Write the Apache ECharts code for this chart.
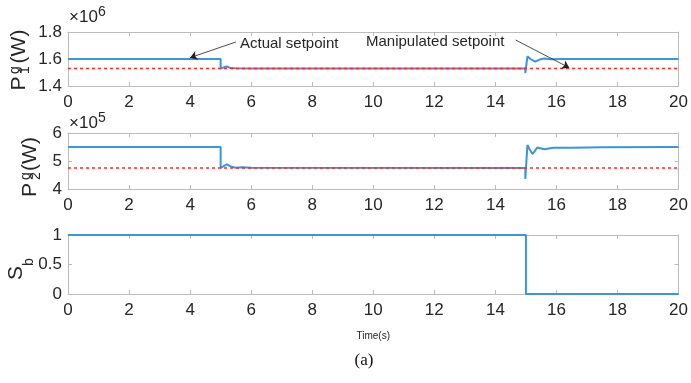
<!DOCTYPE html>
<html>
<head>
<meta charset="utf-8">
<script src="https://cdn.jsdelivr.net/npm/echarts@6/dist/echarts.min.js"></script>
<style>
  html, body { margin: 0; padding: 0; background: #fff; }
  #main { width: 691px; height: 383px; }
</style>
</head>
<body>
<div id="main"></div>
<script>
// time axis ticks (s)
const timeTicks = [0, 2, 4, 6, 8, 10, 12, 14, 16, 18, 20];

// P1g, units of 1e6 W
const timeP1 = [0, 5, 5, 5.1, 5.2, 5.3, 5.45, 6, 14.98, 14.98, 15.05, 15.15, 15.3, 15.45, 15.6, 15.8, 16.2, 20];
const p1Actual = [1.6, 1.6, 1.53, 1.538, 1.545, 1.536, 1.531, 1.53, 1.53, 1.496, 1.62, 1.6, 1.58, 1.596, 1.603, 1.598, 1.6, 1.6];
const timeRef = [0, 20];
const p1Manip = [1.53, 1.53];

// P2g, units of 1e5 W
const timeP2 = [0, 5, 5, 5.1, 5.2, 5.35, 5.5, 5.7, 6, 14.98, 14.98, 15.05, 15.12, 15.22, 15.37, 15.6, 15.9, 16.5, 17.5, 20];
const p2Actual = [5.5, 5.5, 4.75, 4.82, 4.88, 4.8, 4.76, 4.78, 4.76, 4.75, 4.36, 5.57, 5.42, 5.25, 5.48, 5.42, 5.47, 5.47, 5.49, 5.5];
const p2Manip = [4.75, 4.75];

// breaker status
const timeSb = [0, 15, 15, 20];
const sbVals = [1, 1, 0, 0];

const zip = (xs, ys) => xs.map((x, i) => [x, ys[i]]);

const blue = '#3a95dd';
const red = '#ff2a2a';
const axisGray = '#bcbcbc';
const txt = '#262626';
const font = 'Liberation Sans, Arial, sans-serif';

const grids = [
  { left: 68, top: 32, width: 614, height: 54 },
  { left: 68, top: 133, width: 614, height: 56 },
  { left: 68, top: 235, width: 614, height: 59 }
];

const xBottom = i => ({
  type: 'value', gridIndex: i, min: 0, max: 20, interval: 2,
  axisLine: { show: true, onZero: false, lineStyle: { color: axisGray } },
  axisTick: { show: true, inside: true, length: 4, lineStyle: { color: axisGray } },
  axisLabel: { color: txt, fontSize: 17, fontFamily: font, margin: 8 },
  splitLine: { show: false }
});
const xTop = i => ({
  type: 'value', gridIndex: i, position: 'top', min: 0, max: 20, interval: 2,
  axisLine: { show: true, onZero: false, lineStyle: { color: axisGray } },
  axisTick: { show: true, inside: true, length: 4, lineStyle: { color: axisGray } },
  axisLabel: { show: false },
  splitLine: { show: false }
});
const yLeft = (i, min, max, interval) => ({
  type: 'value', gridIndex: i, min, max, interval,
  axisLine: { show: true, onZero: false, lineStyle: { color: axisGray } },
  axisTick: { show: true, inside: true, length: 4, lineStyle: { color: axisGray } },
  axisLabel: { color: txt, fontSize: 17, fontFamily: font, margin: 6 },
  splitLine: { show: false }
});
const yRight = (i, min, max, interval) => ({
  type: 'value', gridIndex: i, position: 'right', min, max, interval,
  axisLine: { show: true, onZero: false, lineStyle: { color: axisGray } },
  axisTick: { show: true, inside: true, length: 4, lineStyle: { color: axisGray } },
  axisLabel: { show: false },
  splitLine: { show: false }
});

const xAxes = [xBottom(0), xBottom(1), xBottom(2), xTop(0), xTop(1), xTop(2)];
xAxes[2].name = 'Time(s)';
xAxes[2].nameLocation = 'middle';
xAxes[2].nameGap = 37;
xAxes[2].nameTextStyle = { color: txt, fontSize: 10, fontFamily: font };

const yAxes = [
  yLeft(0, 1.4, 1.8, 0.2), yLeft(1, 4, 6, 1), yLeft(2, 0, 1, 0.5),
  yRight(0, 1.4, 1.8, 0.2), yRight(1, 4, 6, 1), yRight(2, 0, 1, 0.5)
];

const arrow = (from, to) => [{ coord: from }, { coord: to }];

const series = [
  {
    type: 'line', xAxisIndex: 0, yAxisIndex: 0, data: zip(timeP1, p1Actual),
    showSymbol: false, lineStyle: { color: blue, width: 2 }, z: 2,
    markLine: {
      silent: true, symbol: ['none', 'arrow'], symbolSize: 7,
      lineStyle: { color: '#222', width: 0.8, type: 'solid' },
      label: { show: false },
      data: [arrow([5.5, 1.726], [4.0, 1.61]), arrow([14.66, 1.741], [16.42, 1.535])]
    }
  },
  {
    type: 'line', xAxisIndex: 0, yAxisIndex: 0, data: zip(timeRef, p1Manip),
    showSymbol: false, lineStyle: { color: red, width: 1.5, type: [3, 3] }, z: 3
  },
  {
    type: 'line', xAxisIndex: 1, yAxisIndex: 1, data: zip(timeP2, p2Actual),
    showSymbol: false, lineStyle: { color: blue, width: 2 }, z: 2
  },
  {
    type: 'line', xAxisIndex: 1, yAxisIndex: 1, data: zip(timeRef, p2Manip),
    showSymbol: false, lineStyle: { color: red, width: 1.5, type: [3, 3] }, z: 3
  },
  {
    type: 'line', xAxisIndex: 2, yAxisIndex: 2, data: zip(timeSb, sbVals),
    showSymbol: false, clip: false, lineStyle: { color: blue, width: 2 }, z: 3
  }
];

const rot = Math.PI / 2;
const vtext = (x, y, text, size) => ({
  type: 'text', x, y, rotation: rot,
  style: { text, fill: txt, font: size + 'px ' + font, align: 'center', verticalAlign: 'middle' }
});
const htext = (x, y, text, size, fam) => ({
  type: 'text', x, y,
  style: { text, fill: txt, font: size + 'px ' + (fam || font), align: 'left', verticalAlign: 'middle' }
});

const graphic = [
  // P1g(W)
  vtext(19.5, 83.5, 'P', 21), vtext(15, 70, 'g', 14), vtext(25, 70, '1', 14), vtext(19.5, 46.5, '(W)', 21),
  // P2g(W)
  vtext(30, 190, 'P', 21), vtext(26, 176, 'g', 14), vtext(36, 176, '2', 14), vtext(30, 154, '(W)', 21),
  // Sb
  vtext(16, 273, 'S', 21), vtext(29, 262, 'b', 14),
  // exponents
  htext(69, 17.5, '×10', 17), htext(98, 12, '6', 14),
  htext(69, 123, '×10', 17), htext(98, 118, '5', 14),
  // annotations
  htext(240, 44, 'Actual setpoint', 15), htext(366, 42, 'Manipulated setpoint', 15),
  {
    type: 'text', x: 364, y: 361,
    style: { text: '(a)', fill: '#111', font: '17px Liberation Serif, Times New Roman, serif', align: 'center', verticalAlign: 'middle' }
  }
];

const chart = echarts.init(document.getElementById('main'));
chart.setOption({
  animation: false,
  backgroundColor: '#fff',
  grid: grids,
  xAxis: xAxes,
  yAxis: yAxes,
  series,
  graphic
});
</script>
</body>
</html>
